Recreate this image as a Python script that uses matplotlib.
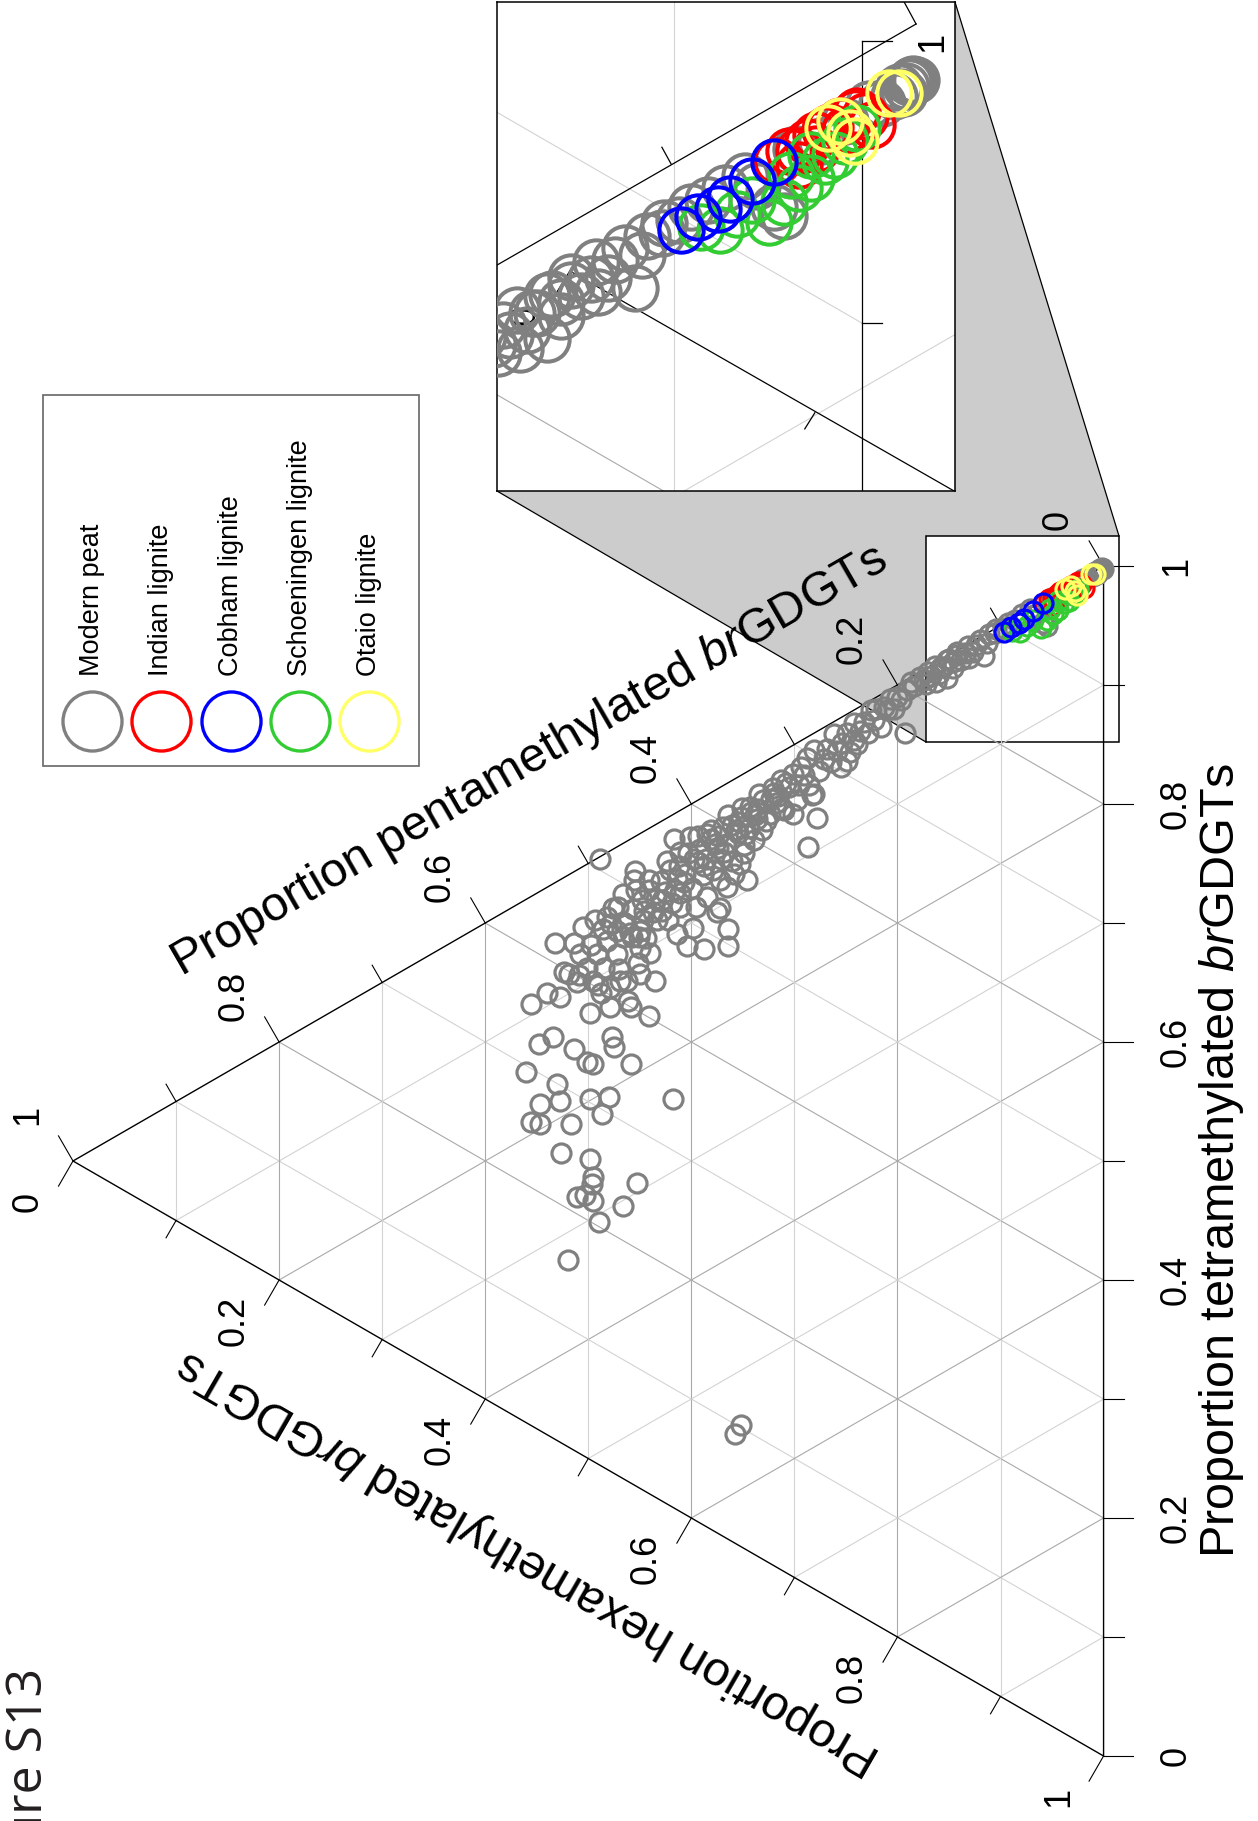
import numpy as np
import matplotlib
matplotlib.use("Agg")
import matplotlib.pyplot as plt
from matplotlib.patches import Polygon, Rectangle

plt.rcParams["font.family"] = ["Liberation Sans", "DejaVu Sans"]
plt.rcParams["mathtext.fontset"] = "custom"
plt.rcParams["mathtext.rm"] = "Liberation Sans"
plt.rcParams["mathtext.it"] = "Liberation Sans:italic"

# ---------------------------------------------------------------------------
# brGDGT fractional abundances (penta, hexa); tetra is the remainder
# ---------------------------------------------------------------------------
peat_penta = [
    0.003, 0.005, 0.008, 0.002, 0.006, 0.010, 0.015, 0.020, 0.030, 0.040,
    0.050, 0.055, 0.059, 0.066, 0.071, 0.079, 0.093, 0.104, 0.111, 0.116,
    0.120, 0.127, 0.134, 0.142, 0.150, 0.152, 0.160, 0.167, 0.172,
    0.004, 0.007, 0.001, 0.105, 0.113, 0.124, 0.131, 0.138, 0.146, 0.156,
    0.163, 0.098, 0.086,
    0.132, 0.142, 0.152, 0.164, 0.174, 0.178, 0.184, 0.191, 0.193, 0.197,
    0.200, 0.203, 0.210, 0.213, 0.216, 0.223, 0.226, 0.229, 0.239, 0.242,
    0.242, 0.249, 0.249, 0.255, 0.259, 0.262, 0.271, 0.278, 0.281, 0.281,
    0.288, 0.294, 0.297, 0.301, 0.301, 0.310, 0.313, 0.320, 0.330, 0.343,
    0.352, 0.369, 0.385, 0.401, 0.417,
    0.466, 0.457, 0.448, 0.441, 0.429, 0.421, 0.412, 0.403, 0.392, 0.381,
    0.374, 0.361, 0.354, 0.342, 0.335, 0.323, 0.316, 0.305,
    0.460, 0.446, 0.434, 0.426, 0.414, 0.406, 0.394, 0.386, 0.374, 0.366,
    0.355, 0.344, 0.336, 0.324,
    0.451, 0.428, 0.411, 0.389, 0.371, 0.349, 0.331,
    0.471, 0.454, 0.441, 0.424, 0.411, 0.394, 0.381, 0.364, 0.351, 0.334,
    0.321,
    0.478, 0.472, 0.463, 0.458, 0.447, 0.444, 0.437, 0.428, 0.419, 0.416,
    0.407, 0.399, 0.397, 0.388, 0.379, 0.377, 0.368, 0.361, 0.357, 0.347,
    0.339, 0.338, 0.328, 0.318, 0.312, 0.308, 0.296, 0.291, 0.286, 0.276,
    0.268, 0.264, 0.254, 0.246, 0.236, 0.232, 0.221, 0.207, 0.187, 0.170,
    0.158, 0.146,
    0.486, 0.497, 0.509, 0.519, 0.491, 0.470, 0.462, 0.452,
    0.372, 0.365, 0.359, 0.353, 0.349, 0.385, 0.395, 0.346, 0.433, 0.450,
    0.423, 0.411, 0.466, 0.482, 0.472, 0.492, 0.501, 0.485, 0.479, 0.488,
    0.508, 0.450, 0.456, 0.466, 0.476,
    0.489, 0.455, 0.287, 0.283, 0.364, 0.364, 0.388, 0.398, 0.440, 0.435,
    0.441, 0.461, 0.479, 0.498, 0.532, 0.514, 0.540, 0.527, 0.511, 0.495,
    0.469, 0.534, 0.514, 0.495, 0.477, 0.475, 0.459, 0.501, 0.530, 0.527,
    0.498, 0.480, 0.487, 0.517, 0.418, 0.375, 0.372, 0.414, 0.404, 0.493,
    0.482, 0.505, 0.524, 0.450, 0.459,
    0.556, 0.560, 0.556, 0.548, 0.547, 0.547, 0.526, 0.498, 0.495, 0.496,
    0.511, 0.503, 0.495, 0.490, 0.466, 0.453, 0.520, 0.352, 0.358,
]
peat_hexa = [
    0.001, 0.002, 0.001, 0.001, 0.004, 0.003, 0.003, 0.001, 0.002, 0.004,
    0.002, 0.023, 0.018, 0.007, 0.001, 0.001, 0.001, 0.001, 0.002, 0.018,
    0.002, 0.009, 0.006, 0.004, 0.003, 0.018, 0.011, 0.009, 0.013,
    0.001, 0.003, 0.002, 0.004, 0.008, 0.004, 0.012, 0.010, 0.013, 0.007,
    0.016, 0.003, 0.002,
    0.001, 0.001, 0.003, 0.002, 0.009, 0.004, 0.009, 0.009, 0.044, 0.014,
    0.010, 0.019, 0.016, 0.012, 0.027, 0.018, 0.008, 0.026, 0.030, 0.011,
    0.025, 0.016, 0.039, 0.041, 0.026, 0.010, 0.027, 0.073, 0.014, 0.051,
    0.017, 0.022, 0.048, 0.024, 0.058, 0.050, 0.023, 0.031, 0.032, 0.031,
    0.035, 0.035, 0.033, 0.027, 0.021,
    0.066, 0.060, 0.057, 0.052, 0.050, 0.045, 0.046, 0.040, 0.042, 0.039,
    0.040, 0.037, 0.038, 0.036, 0.037, 0.034, 0.035, 0.033,
    0.078, 0.067, 0.063, 0.061, 0.056, 0.056, 0.052, 0.053, 0.050, 0.051,
    0.047, 0.048, 0.045, 0.046,
    0.086, 0.076, 0.069, 0.065, 0.061, 0.060, 0.056,
    0.051, 0.045, 0.043, 0.036, 0.035, 0.030, 0.031, 0.027, 0.028, 0.025,
    0.026,
    0.062, 0.071, 0.069, 0.083, 0.074, 0.091, 0.072, 0.067, 0.074, 0.064,
    0.062, 0.071, 0.048, 0.058, 0.066, 0.045, 0.056, 0.067, 0.043, 0.052,
    0.061, 0.040, 0.050, 0.040, 0.047, 0.028, 0.036, 0.030, 0.041, 0.034,
    0.020, 0.033, 0.022, 0.033, 0.021, 0.015, 0.010, 0.008, 0.004, 0.004,
    0.006, 0.008,
    0.062, 0.070, 0.089, 0.083, 0.107, 0.104, 0.118, 0.108,
    0.078, 0.087, 0.079, 0.074, 0.067, 0.086, 0.089, 0.091, 0.081, 0.082,
    0.086, 0.081, 0.079, 0.074, 0.090, 0.080, 0.087, 0.095, 0.115, 0.115,
    0.072, 0.096, 0.036, 0.043, 0.049,
    0.002, 0.029, 0.093, 0.051, 0.123, 0.137, 0.128, 0.105, 0.105, 0.131,
    0.158, 0.135, 0.131, 0.127, 0.051, 0.060, 0.089, 0.099, 0.094, 0.101,
    0.114, 0.129, 0.149, 0.171, 0.157, 0.167, 0.189, 0.166, 0.170, 0.186,
    0.199, 0.206, 0.217, 0.210, 0.239, 0.103, 0.101, 0.102, 0.117, 0.051,
    0.054, 0.051, 0.079, 0.118, 0.141,
    0.090, 0.145, 0.189, 0.128, 0.195, 0.179, 0.230, 0.249, 0.266, 0.271,
    0.275, 0.277, 0.286, 0.306, 0.305, 0.292, 0.323, 0.546, 0.550,
]

indian_penta = [0.058, 0.053, 0.049, 0.045, 0.042, 0.038, 0.036, 0.032,
                0.026, 0.022, 0.019, 0.049, 0.042, 0.030, 0.025]
indian_hexa = [0.002, 0.001, 0.003, 0.002, 0.006, 0.001, 0.001, 0.001,
               0.001, 0.004, 0.009, 0.008, 0.001, 0.005, 0.001]

cobham_penta = [0.097, 0.090, 0.082, 0.077, 0.068, 0.059]
cobham_hexa = [0.007, 0.006, 0.007, 0.006, 0.004, 0.002]

schoen_penta = [0.089, 0.081, 0.074, 0.068, 0.061, 0.055, 0.052,
                0.049, 0.044, 0.044, 0.038, 0.034, 0.030, 0.025]
schoen_hexa = [0.010, 0.015, 0.013, 0.011, 0.022, 0.018, 0.010,
               0.016, 0.015, 0.007, 0.012, 0.012, 0.009, 0.007]

otaio_penta = [0.037, 0.032, 0.028, 0.026, 0.012, 0.008]
otaio_hexa = [0.001, 0.001, 0.007, 0.011, 0.001, 0.003]

GROUPS = [
    ("Modern peat", peat_penta, peat_hexa, "#808080"),
    ("Indian lignite", indian_penta, indian_hexa, "#ff0000"),
    ("Schoeningen lignite", schoen_penta, schoen_hexa, "#33cc33"),
    ("Cobham lignite", cobham_penta, cobham_hexa, "#0000ff"),
    ("Otaio lignite", otaio_penta, otaio_hexa, "#ffff66"),
]
LEGEND_ORDER = ["Modern peat", "Indian lignite", "Cobham lignite",
                "Schoeningen lignite", "Otaio lignite"]

TICK_VALUES = [i / 10 for i in range(11)]
TICK_LABELS = {0: "0", 2: "0.2", 4: "0.4", 6: "0.6", 8: "0.8", 10: "1"}

# ---------------------------------------------------------------------------
# page geometry (pixels, y down) -- the whole page is turned on its side
# ---------------------------------------------------------------------------
W, H = 1258, 1821
APEX_X, BASE_Y, SCALE = 73, 1756, 1190
SIN60 = np.sqrt(3) / 2
MAJOR_GRID, MINOR_GRID = "#a9a9a9", "#d3d3d3"


def tern_xy(penta, hexa):
    penta = np.asarray(penta, float)
    hexa = np.asarray(hexa, float)
    tetra = 1.0 - penta - hexa
    return SIN60 * (1.0 - penta), tetra + penta / 2.0


def px(x, y):
    return (x - APEX_X) / SCALE, (BASE_Y - y) / SCALE


def grid_lines(ext):
    """Yield (penta pair, hexa pair, value index, kind) for every grid line."""
    for i in range(1, 10):
        v = i / 10
        yield (v, v), (-ext, 1 - v + ext), i, "P"
        yield (-ext, 1 - v + ext), (v, v), i, "H"
        yield (1 - v + ext, -ext), (-ext, 1 - v + ext), i, "T"


fig = plt.figure(figsize=(W / 100, H / 100), dpi=100)
fig.patch.set_facecolor("white")

page = fig.add_axes([0, 0, 1, 1])
page.set_xlim(0, W)
page.set_ylim(H, 0)
page.axis("off")

tern = fig.add_axes([0, 0, 1, 1])
x_lo, y_top = px(0, 0)
x_hi, y_bot = px(W, H)
tern.set_xlim(x_lo, x_hi)
tern.set_ylim(y_bot, y_top)
tern.axis("off")

# zoom box, grey connector and the outlines that go with it
SMALL_BOX = (926, 536, 1119, 742)
INSET_BOX = (497, 2, 955, 491)
page.add_patch(Polygon([(INSET_BOX[0], INSET_BOX[3]), (SMALL_BOX[0], SMALL_BOX[3]),
                        (SMALL_BOX[0], SMALL_BOX[1]), (SMALL_BOX[2], SMALL_BOX[1]),
                        (INSET_BOX[2], INSET_BOX[1]), (INSET_BOX[2], INSET_BOX[3])],
                       closed=True, fc="#cccccc", ec="none"))
page.plot([INSET_BOX[0], SMALL_BOX[0]], [INSET_BOX[3], SMALL_BOX[3]], color="k", lw=0.9)
page.plot([INSET_BOX[2], SMALL_BOX[2]], [INSET_BOX[1], SMALL_BOX[1]], color="k", lw=0.9)
page.add_patch(Rectangle((SMALL_BOX[0], SMALL_BOX[1]), SMALL_BOX[2] - SMALL_BOX[0],
                         SMALL_BOX[3] - SMALL_BOX[1], fill=False, ec="k", lw=1.1))

# ---------------------------------------------------------------------------
# main ternary diagram
# ---------------------------------------------------------------------------
for pp, hh, i, kind in grid_lines(0.0):
    gx, gy = tern_xy(pp, hh)
    tern.plot(gx, gy, color=MAJOR_GRID if i % 2 == 0 else MINOR_GRID, lw=0.8, zorder=1)

cx, cy = tern_xy([0, 1, 0, 0], [0, 0, 1, 0])
tern.plot(cx, cy, color="k", lw=1.0, zorder=2)

axes_def = {
    "tetra": (lambda v: (0.0, 1.0 - v), (1.0, 0.0), (73, 0)),
    "penta": (lambda v: (v, 0.0), (-0.5, SIN60), (-45, -46)),
    "hexa": (lambda v: (1.0 - v, v), (-0.5, -SIN60), (-45, 41)),
}
for name, (pos, direc, off) in axes_def.items():
    for i, v in enumerate(TICK_VALUES):
        bx, by = tern_xy(*pos(v))
        length = (29 if i % 2 == 0 else 20) / SCALE
        tern.plot([bx, bx + direc[0] * length], [by, by + direc[1] * length],
                  color="k", lw=0.8, zorder=2)
        if i in TICK_LABELS:
            tern.text(bx + off[0] / SCALE, by - off[1] / SCALE, TICK_LABELS[i],
                      rotation=90, ha="center", va="center", fontsize=26)

title_kw = dict(ha="center", va="center", rotation_mode="anchor", fontsize=35)
tern.text(*px(1222, 1161), "Proportion tetramethylated $\\mathit{br}$GDGTs",
          rotation=90, **title_kw)
tern.text(*px(529, 761), "Proportion pentamethylated $\\mathit{br}$GDGTs",
          rotation=30, **title_kw)
tern.text(*px(529, 1562), "Proportion hexamethylated $\\mathit{br}$GDGTs",
          rotation=150, **title_kw)

for label, pp, hh, col in GROUPS:
    gx, gy = tern_xy(pp, hh)
    tern.plot(gx, gy, "o", ls="none", mfc="none", mec=col, ms=13.7, mew=2.3, zorder=3)

# ---------------------------------------------------------------------------
# legend
# ---------------------------------------------------------------------------
page.add_patch(Rectangle((43, 395), 376, 371, fill=False, ec="#666666", lw=1.2))
colours = {g[0]: g[3] for g in GROUPS}
for k, label in enumerate(LEGEND_ORDER):
    lx = 92 + 69.3 * k
    page.plot([lx], [721], "o", mfc="none", mec=colours[label], ms=42.5, mew=2.4)
    page.text(lx, 676, label, rotation=90, rotation_mode="anchor",
              ha="left", va="center", fontsize=19.5)

page.text(42, 1668, "Figure S13", rotation=90, rotation_mode="anchor",
          ha="right", va="baseline", fontsize=36, family="Open Sans", color="#231f20")

# ---------------------------------------------------------------------------
# enlarged view of the tetramethylated corner
# ---------------------------------------------------------------------------
ins = fig.add_axes([INSET_BOX[0] / W, 1 - INSET_BOX[3] / H,
                    (INSET_BOX[2] - INSET_BOX[0]) / W, (INSET_BOX[3] - INSET_BOX[1]) / H])
ix0, iy0 = px(SMALL_BOX[0], SMALL_BOX[3])
ix1, iy1 = px(SMALL_BOX[2], SMALL_BOX[1])
ins.set_xlim(ix0, ix1)
ins.set_ylim(iy0, iy1)
ins.set_xticks([])
ins.set_yticks([])
for sp in ins.spines.values():
    sp.set_color("k")
    sp.set_linewidth(1.1)

LINE_B = 0.797
for pp, hh, i, kind in grid_lines(0.4):
    gx, gy = tern_xy(pp, hh)
    ln, = ins.plot(gx, gy, color=MAJOR_GRID if i % 2 == 0 else MINOR_GRID, lw=0.8, zorder=1)
    if kind == "T" and i == 9:
        clip = Rectangle((0, 0), LINE_B, 1, transform=ins.transAxes)
        ln.set_clip_path(clip)

frame = [
    [(0.0, 0.462), (0.915, 0.955)],
    [(LINE_B, 0.920), (LINE_B, 0.0)],
    [(0.159, 0.450), (0.998, 0.0)],
    [(0.915, 0.955), (0.889, 1.0)],
    [(0.380, 0.669), (0.360, 0.703)],
    [(LINE_B, 0.920), (0.862, 0.920)],
    [(LINE_B, 0.344), (0.841, 0.344)],
    [(0.159, 0.450), (0.127, 0.401)],
    [(0.694, 0.160), (0.672, 0.127)],
]
for seg in frame:
    (xa, ya), (xb, yb) = seg
    ins.plot([xa, xb], [ya, yb], color="k", lw=0.9, transform=ins.transAxes, zorder=2)
ins.text(0.952, 0.918, "1", rotation=90, ha="center", va="center", fontsize=26,
         transform=ins.transAxes)
ins.text(0.061, 0.360, "0", rotation=90, ha="center", va="center", fontsize=26,
         transform=ins.transAxes)

for label, pp, hh, col in GROUPS:
    gx, gy = tern_xy(pp, hh)
    ins.plot(gx, gy, "o", ls="none", mfc="none", mec=col, ms=31.9, mew=2.9, zorder=3)

fig.savefig("out.png", dpi=100)
